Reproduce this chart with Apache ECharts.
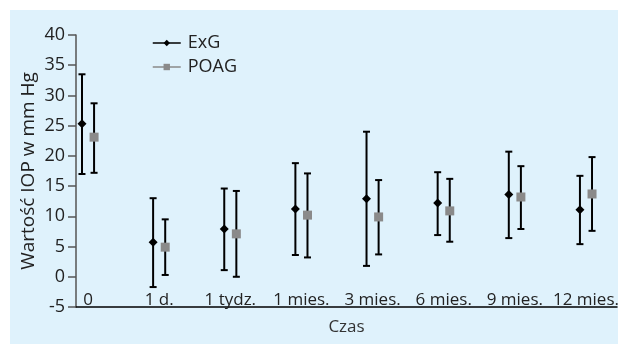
<!DOCTYPE html>
<html>
<head>
<meta charset="utf-8">
<script src="https://cdn.jsdelivr.net/npm/echarts@6/dist/echarts.min.js"></script>
<style>
  html, body { margin: 0; padding: 0; background: #fff; }
  #chart { position: absolute; left: 10px; top: 10px; width: 608px; height: 334px; background: #dff2fc; }
</style>
</head>
<body>
<div id="chart"></div>
<script>
  var categories = ['0', '1 d.', '1 tydz.', '1 mies.', '3 mies.', '6 mies.', '9 mies.', '12 mies.'];
  // ExG: srednia, dolna i gorna granica slupka bledu
  var exgMean = [25.3, 5.7, 7.9, 11.2, 12.9, 12.2, 13.6, 11.1];
  var exgLow  = [17.0, -1.7, 1.1, 3.6, 1.8, 6.9, 6.4, 5.4];
  var exgHigh = [33.5, 13.0, 14.6, 18.8, 24.0, 17.3, 20.7, 16.7];
  // POAG
  var poagMean = [23.1, 4.9, 7.1, 10.2, 9.9, 10.9, 13.2, 13.7];
  var poagLow  = [17.2, 0.3, 0.0, 3.2, 3.7, 5.8, 7.9, 7.6];
  var poagHigh = [28.7, 9.5, 14.2, 17.1, 16.0, 16.2, 18.3, 19.8];

  var shift = 0.085; // przesuniecie serii wzgledem kategorii

  function pts(mean, dx) {
    var out = [];
    for (var i = 0; i < mean.length; i++) out.push([i + dx, mean[i]]);
    return out;
  }
  function bars(low, high, dx) {
    var out = [];
    for (var i = 0; i < low.length; i++) out.push([i + dx, low[i], high[i]]);
    return out;
  }

  function renderBar(params, api) {
    var x = api.value(0);
    var lo = api.coord([x, api.value(1)]);
    var hi = api.coord([x, api.value(2)]);
    var w = 3.5;
    var st = { stroke: '#000', lineWidth: 2 };
    return {
      type: 'group',
      children: [
        { type: 'line', shape: { x1: lo[0], y1: lo[1], x2: hi[0], y2: hi[1] }, style: st },
        { type: 'line', shape: { x1: lo[0] - w, y1: lo[1], x2: lo[0] + w, y2: lo[1] }, style: st },
        { type: 'line', shape: { x1: hi[0] - w, y1: hi[1], x2: hi[0] + w, y2: hi[1] }, style: st }
      ]
    };
  }

  var font = '"Open Sans", "Noto Sans", sans-serif';
  var myChart = echarts.init(document.getElementById('chart'));
  var option = {
    animation: false,
    textStyle: { fontFamily: font },
    grid: { left: 66, right: 1, top: 25, bottom: 37, outerBoundsMode: 'none' },
    legend: {
      orient: 'vertical',
      left: 137,
      top: 19,
      itemWidth: 28,
      itemHeight: 8,
      itemGap: 6,
      textStyle: { fontSize: 18, color: '#222', fontFamily: font, padding: [0, 0, 0, 2] },
      data: [
        { name: 'ExG', lineStyle: { color: '#000', width: 1.5, opacity: 1 } },
        { name: 'POAG', lineStyle: { color: '#8a8a8a', width: 1.5, opacity: 1 } }
      ]
    },
    xAxis: {
      type: 'value',
      min: -0.169,
      max: 7.436,
      name: 'Czas',
      nameLocation: 'middle',
      nameGap: 12,
      nameMoveOverlap: false,
      nameTextStyle: { fontSize: 17, color: '#333' },
      axisLine: { show: true, onZero: false, lineStyle: { color: '#000', width: 1.5 } },
      axisTick: { show: false },
      splitLine: { show: false },
      axisLabel: {
        inside: true,
        margin: -2,
        fontSize: 17,
        color: '#222',
        customValues: [0, 1, 2, 3, 4, 5, 6, 7],
        formatter: function (v) { return categories[Math.round(v)]; }
      }
    },
    yAxis: {
      type: 'value',
      min: -5,
      max: 40,
      interval: 5,
      name: 'Wartość IOP w mm Hg',
      nameLocation: 'middle',
      nameGap: 38,
      nameMoveOverlap: false,
      nameTextStyle: { fontSize: 19, color: '#222' },
      axisLine: { show: true, onZero: false, lineStyle: { color: '#555', width: 1.5 } },
      axisTick: { show: true, length: 8, lineStyle: { color: '#555', width: 1.5 } },
      splitLine: { show: false },
      axisLabel: { margin: 11, fontSize: 18, color: '#222' }
    },
    series: [
      { name: 'ExG bars', type: 'custom', renderItem: renderBar, data: bars(exgLow, exgHigh, -shift), z: 1, silent: true },
      { name: 'POAG bars', type: 'custom', renderItem: renderBar, data: bars(poagLow, poagHigh, shift), z: 1, silent: true },
      {
        name: 'ExG', type: 'line', data: pts(exgMean, -shift), z: 3,
        symbol: 'diamond', symbolSize: 9, itemStyle: { color: '#000' },
        lineStyle: { opacity: 0, color: '#000' }
      },
      {
        name: 'POAG', type: 'line', data: pts(poagMean, shift), z: 3,
        symbol: 'rect', symbolSize: 9, itemStyle: { color: '#8a8a8a' },
        lineStyle: { opacity: 0, color: '#8a8a8a' }
      }
    ]
  };
  myChart.setOption(option);
</script>
</body>
</html>
